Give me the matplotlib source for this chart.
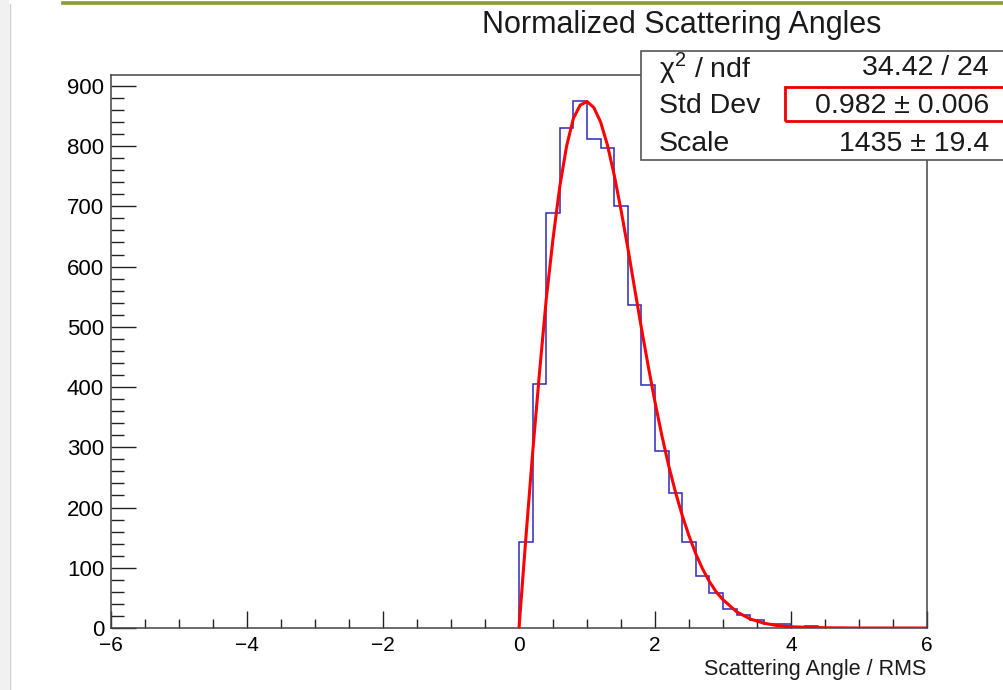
import numpy as np
import matplotlib
matplotlib.use("Agg")
import matplotlib.pyplot as plt
from matplotlib.patches import Rectangle
from matplotlib.lines import Line2D
from matplotlib.ticker import MultipleLocator

plt.rcParams['font.family'] = ['Liberation Sans', 'DejaVu Sans']
plt.rcParams['mathtext.fontset'] = 'custom'
plt.rcParams['mathtext.rm'] = 'Liberation Sans'

# histogram counts, bins of width 0.2 starting at 0
bin_width = 0.2
counts = [143, 405, 689, 830, 875, 811, 796, 701, 536, 403, 293,
          224, 143, 87, 58, 31, 21, 13, 6, 6, 0, 4]

# fitted curve
fit_x = [0.0, 0.1, 0.2, 0.3, 0.4, 0.5, 0.6, 0.7, 0.8, 0.9, 1.0, 1.1, 1.2,
         1.3, 1.4, 1.5, 1.6, 1.7, 1.8, 1.9, 2.0, 2.1, 2.2, 2.3, 2.4, 2.5,
         2.6, 2.7, 2.8, 2.9, 3.0, 3.2, 3.4, 3.6, 3.8, 4.0, 4.5, 5.0, 6.0]
fit_y = [0, 148, 290, 422, 545, 646, 733, 800, 846, 868, 874, 864, 840,
         802, 752, 694, 631, 564, 498, 435, 375, 320, 270, 226, 187, 153,
         123, 98, 77, 60, 47, 27, 15, 8, 4, 2, 0.4, 0, 0]

# stats box rows
stat_names = ['\u03c7$^{\\mathrm{2}}$ / ndf', 'Std Dev', 'Scale']
stat_values = ['34.42 / 24', '0.982 \u00b1 0.006', '1435 \u00b1 19.4']

W, H = 1004, 690
def fx(px):
    return px / W
def fy(py):
    return 1 - py / H

fig = plt.figure(figsize=(W / 100, H / 100), dpi=100)
fig.patch.set_facecolor('white')

# page decorations: left grey strip, top green rule
fig.add_artist(Rectangle((0, 0), fx(9), 1, transform=fig.transFigure,
                         facecolor='#f1f1f1', edgecolor='none'))
fig.add_artist(Line2D([fx(9.5), fx(9.5)], [0, fy(4)], transform=fig.transFigure,
                      color='#cfcfcf', lw=1))
fig.add_artist(Line2D([fx(63), 1], [fy(2.5), fy(2.5)], transform=fig.transFigure,
                      color='#8a9c2c', lw=2.6))

ax = fig.add_axes([fx(111), fy(628), fx(927) - fx(111), fy(75) - fy(628)])

edges = np.arange(len(counts) + 1) * bin_width
ax.stairs(counts, edges, color='#2b2bb8', lw=1.1, baseline=0, zorder=2)
ax.plot(fit_x, fit_y, color='#ff0000', lw=2.2, zorder=3)

ax.set_xlim(-6, 6)
ax.set_ylim(0, 918)

ax.xaxis.set_major_locator(MultipleLocator(2))
ax.xaxis.set_minor_locator(MultipleLocator(0.5))
ax.yaxis.set_major_locator(MultipleLocator(100))
ax.yaxis.set_minor_locator(MultipleLocator(20))

ax.tick_params(axis='x', which='major', direction='in', length=12, width=1,
               color='#222222', labelsize=15, pad=6, top=False)
ax.tick_params(axis='x', which='minor', direction='in', length=6.5, width=1,
               color='#222222', top=False)
ax.tick_params(axis='y', which='major', direction='in', length=18, width=1,
               color='#222222', labelsize=16, pad=5, right=False)
ax.tick_params(axis='y', which='minor', direction='in', length=9.5, width=1,
               color='#222222', right=False)

for s in ax.spines.values():
    s.set_color('#444444')
    s.set_linewidth(1.1)

ax.set_xticklabels([str(int(v)).replace('-', '\u2212') for v in ax.get_xticks()])

fig.text(fx(926), fy(669), 'Scattering Angle / RMS', ha='right', va='center',
         fontsize=15.5, color='#1a1a1a')
fig.text(fx(682), fy(25), 'Normalized Scattering Angles', ha='center', va='center',
         fontsize=22, color='#1a1a1a')

# stats box
fig.add_artist(Rectangle((fx(641), fy(160)), 1.0, fy(51) - fy(160),
                         transform=fig.transFigure, facecolor='white',
                         edgecolor='#555555', lw=1.2, zorder=5))
row_y = [68, 106, 144]
for name, val, yy in zip(stat_names, stat_values, row_y):
    fig.text(fx(659), fy(yy), name, ha='left', va='center', fontsize=20.5,
             color='#1a1a1a', zorder=6)
    fig.text(fx(989), fy(yy), val, ha='right', va='center', fontsize=20.5,
             color='#1a1a1a', zorder=6)

# red highlight around the std dev value
fig.add_artist(Rectangle((fx(785), fy(121)), 1.0, fy(87) - fy(121),
                         transform=fig.transFigure, facecolor='none',
                         edgecolor='#ee0000', lw=2, zorder=7))

fig.savefig('out.png', dpi=100)
